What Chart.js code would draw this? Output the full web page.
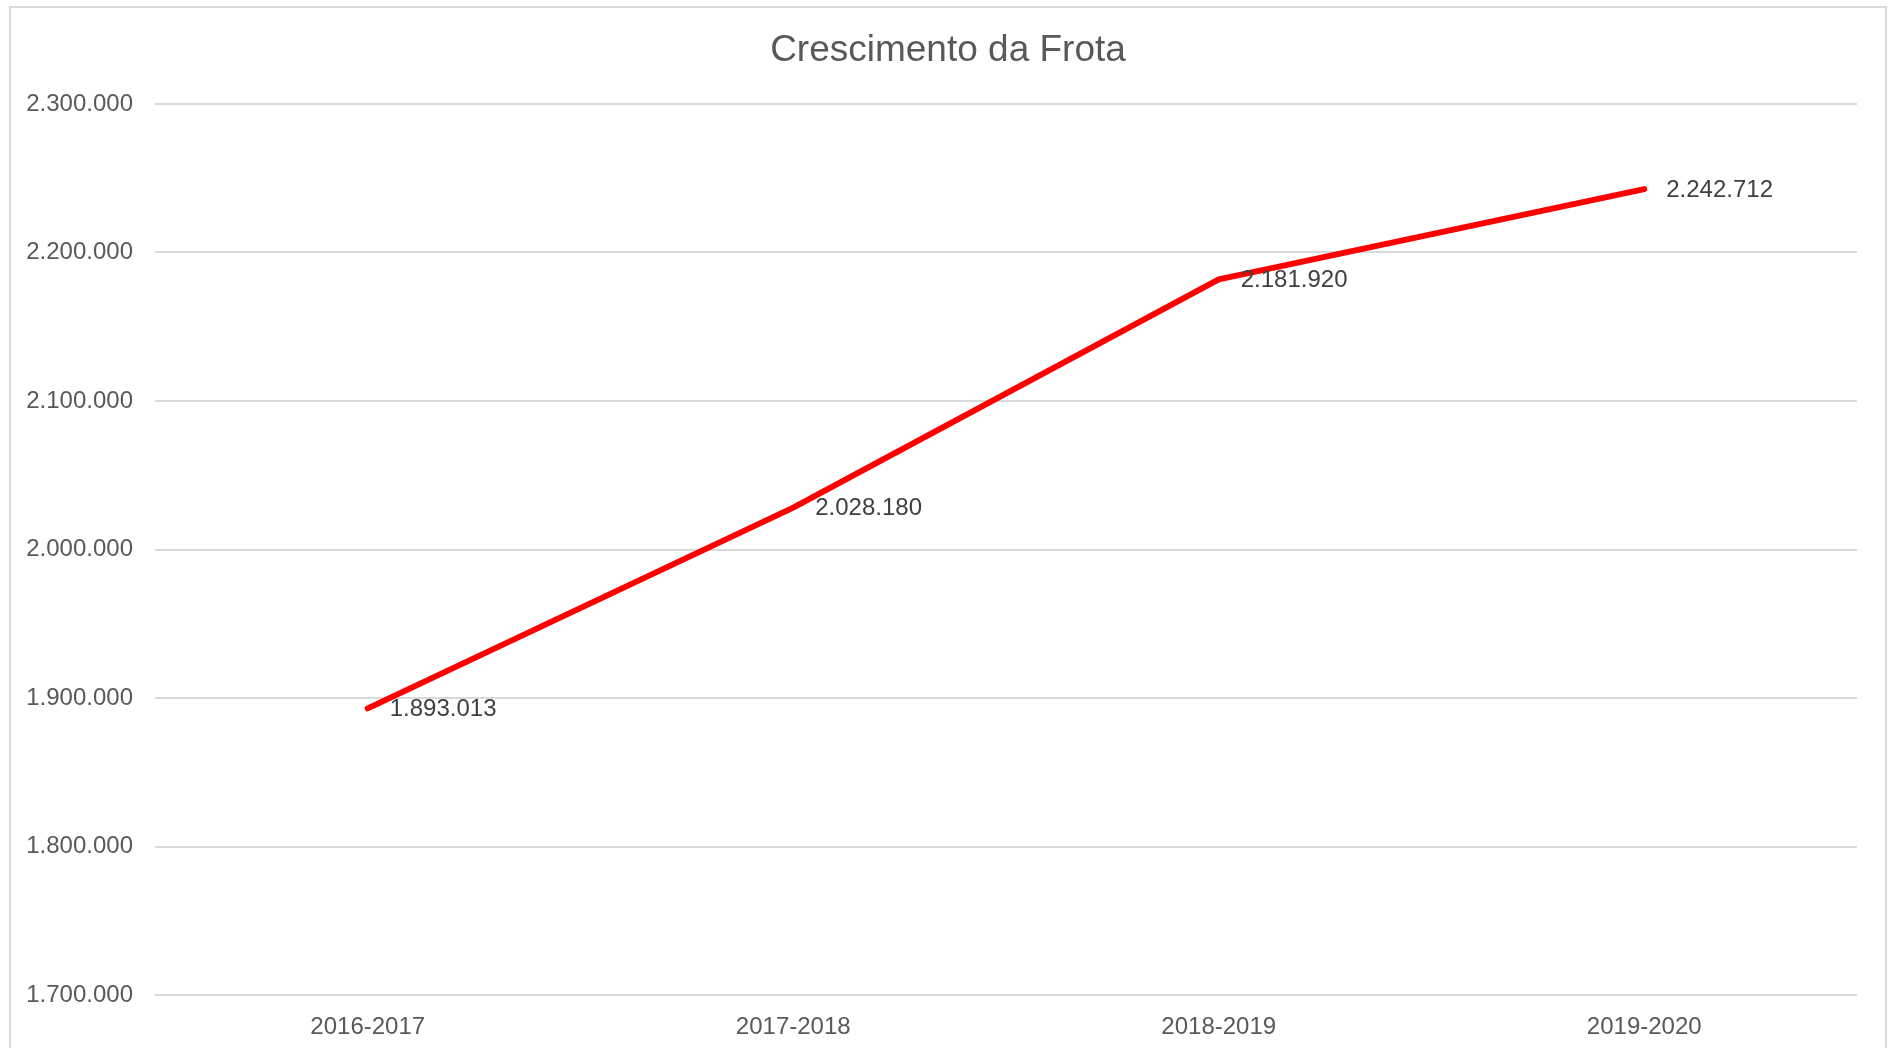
<!DOCTYPE html>
<html lang="pt-BR">
<head>
<meta charset="utf-8">
<title>Crescimento da Frota</title>
<script src="https://cdn.jsdelivr.net/npm/chart.js@4.4.1/dist/chart.umd.min.js"></script>
<style>
  html, body { margin: 0; padding: 0; background: #ffffff; }
  #wrap { width: 1892px; height: 1048px; }
</style>
</head>
<body>
<div id="wrap"><canvas id="frota" width="1892" height="1048"></canvas></div>
<script>
// --- DADOS ---
const periodos = ['2016-2017', '2017-2018', '2018-2019', '2019-2020'];
const frota = [1893013, 2028180, 2181920, 2242712];
const eixoMin = 1700000;
const eixoMax = 2300000;
const eixoPasso = 100000;
const titulo = 'Crescimento da Frota';

const fonte = '"Liberation Sans", Arial, sans-serif';

// numero com ponto como separador de milhar
const formatar = (v) => String(Math.round(v)).replace(/\B(?=(\d{3})+(?!\d))/g, '.');

// moldura cinza e titulo centralizado na pagina
const moldura = {
    id: 'moldura',
    beforeDraw(chart) {
        const c = chart.ctx;
        c.save();
        c.strokeStyle = '#d9d9d9';
        c.lineWidth = 2;
        c.beginPath();
        c.moveTo(10, chart.height + 5);
        c.lineTo(10, 7);
        c.lineTo(1886, 7);
        c.lineTo(1886, chart.height + 5);
        c.stroke();

        c.font = '37px ' + fonte;
        c.fillStyle = '#595959';
        c.textAlign = 'center';
        c.textBaseline = 'middle';
        c.fillText(titulo, 948, 51);
        c.restore();
    }
};

// rotulos de valor a direita de cada ponto
const rotulos = {
    id: 'rotulos',
    afterDatasetsDraw(chart) {
        const c = chart.ctx;
        const meta = chart.getDatasetMeta(0);
        c.save();
        c.font = '24px ' + fonte;
        c.fillStyle = '#404040';
        c.textAlign = 'left';
        c.textBaseline = 'middle';
        meta.data.forEach((pt, i) => {
            c.fillText(formatar(frota[i]), pt.x + 22, pt.y + 1);
        });
        c.restore();
    }
};

const ctx = document.getElementById('frota').getContext('2d');
new Chart(ctx, {
    type: 'line',
    data: {
        labels: periodos,
        datasets: [{
            label: 'Frota',
            data: frota,
            borderColor: '#ff0000',
            borderWidth: 6,
            borderCapStyle: 'round',
            borderJoinStyle: 'round',
            pointRadius: 0,
            pointHoverRadius: 0,
            tension: 0,
            fill: false
        }]
    },
    options: {
        responsive: false,
        animation: false,
        layout: { padding: { top: 104, right: 35, bottom: 0, left: 0 } },
        plugins: {
            legend: { display: false },
            tooltip: { enabled: false },
            title: { display: false }
        },
        scales: {
            x: {
                offset: true,
                grid: { display: false },
                border: { display: false },
                ticks: {
                    color: '#595959',
                    padding: 10,
                    font: { family: fonte, size: 24 }
                },
                afterFit: (s) => { s.height = 53; }
            },
            y: {
                min: eixoMin,
                max: eixoMax,
                border: { display: false },
                grid: { color: '#d9d9d9', lineWidth: 2, drawTicks: false },
                ticks: {
                    stepSize: eixoPasso,
                    color: '#595959',
                    padding: 22,
                    font: { family: fonte, size: 24 },
                    callback: (v) => formatar(v)
                },
                afterFit: (s) => { s.width = 155; }
            }
        }
    },
    plugins: [moldura, rotulos]
});
</script>
</body>
</html>
